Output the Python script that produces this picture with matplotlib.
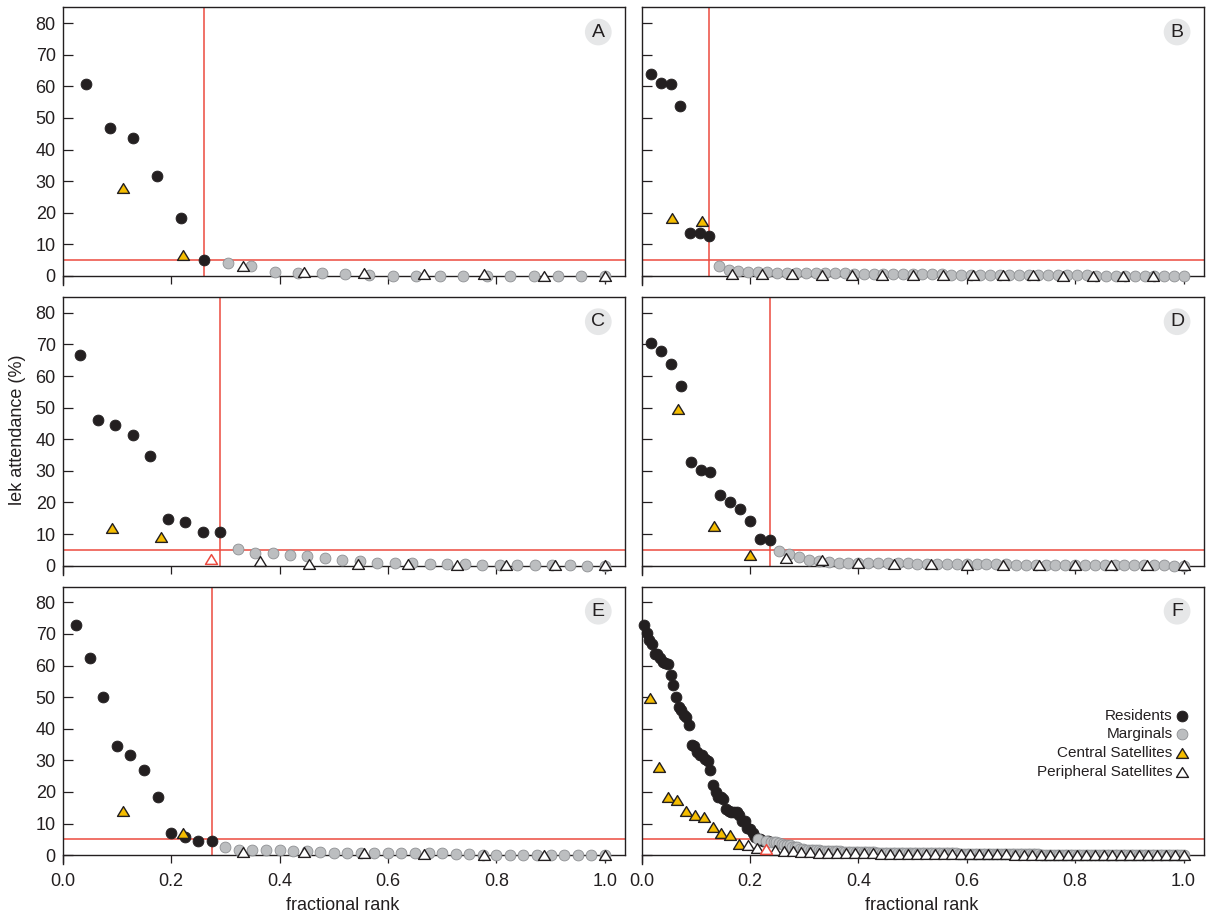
import matplotlib
matplotlib.use('Agg')
import matplotlib.pyplot as plt
from matplotlib.path import Path
import numpy as np

plt.rcParams['font.family'] = ['Liberation Sans', 'DejaVu Sans']

# ---------------- data (lek attendance, %) ----------------
panel_labels = ['A', 'B', 'C', 'D', 'E', 'F']

res_A = [60.6, 46.9, 43.6, 31.6, 18.4, 5.0]
mar_A = [4.2, 3.1, 1.3, 0.9, 0.8, 0.5, 0.3, 0.1, 0.1, 0.0, 0.0, 0.0, 0.0, 0.0, 0.0, 0.0, 0.0]
cen_A = [27.8, 6.5]
per_A = [3.1, 1.2, 0.8, 0.7, 0.5, 0.0, 0.0]
red_A = []

res_B = [63.8, 61.1, 60.7, 53.9, 13.6, 13.6, 12.8]
mar_B = [3.2, 2.0, 1.6, 1.4, 1.3, 1.2, 1.1, 1.0, 1.0, 0.9, 0.9, 0.8, 0.8, 0.8, 0.7,
         0.7, 0.7, 0.6, 0.6, 0.6, 0.5, 0.5, 0.5, 0.5, 0.4, 0.4, 0.4, 0.4, 0.3, 0.3,
         0.3, 0.3, 0.3, 0.2, 0.2, 0.2, 0.2, 0.2, 0.2, 0.1, 0.1, 0.1, 0.1, 0.1, 0.1,
         0.1, 0.0, 0.0, 0.0]
cen_B = [18.4, 17.4]
per_B = [0.6, 0.5, 0.5, 0.4, 0.4, 0.3, 0.3, 0.3, 0.2, 0.2, 0.2, 0.1, 0.1, 0.1, 0.1]
red_B = []

res_C = [66.7, 46.0, 44.5, 41.3, 34.8, 14.7, 13.8, 10.7, 10.7]
mar_C = [5.2, 4.1, 4.1, 3.4, 3.1, 2.5, 1.7, 1.4, 1.0, 0.7, 0.7, 0.6, 0.6, 0.6, 0.3,
         0.3, 0.2, 0.2, 0.2, 0.1, 0.0, 0.0]
cen_C = [12.0, 9.0]
per_C = [1.4, 0.4, 0.4, 0.4, 0.3, 0.2, 0.2, 0.2]
red_C = [2.1]

res_D = [70.4, 68.0, 63.8, 57.0, 32.8, 30.3, 29.7, 22.3, 20.0, 17.9, 14.1, 8.6, 8.2]
mar_D = [4.5, 3.7, 2.7, 1.9, 1.4, 1.1, 1.0, 1.0, 0.9, 0.9, 0.8, 0.8, 0.7, 0.7, 0.6,
         0.6, 0.6, 0.5, 0.5, 0.5, 0.4, 0.4, 0.4, 0.4, 0.3, 0.3, 0.3, 0.3, 0.3, 0.2,
         0.2, 0.2, 0.2, 0.2, 0.1, 0.1, 0.1, 0.1, 0.1, 0.1, 0.0, 0.0]
cen_D = [49.7, 12.7, 3.4]
per_D = [2.4, 1.7, 0.8, 0.6, 0.6, 0.3, 0.3, 0.2, 0.2, 0.2, 0.2, 0.2]
red_D = []

res_E = [72.9, 62.3, 50.0, 34.4, 31.6, 26.9, 18.3, 7.0, 5.6, 4.6, 4.4]
mar_E = [2.7, 1.7, 1.5, 1.5, 1.5, 1.3, 1.3, 0.9, 0.8, 0.8, 0.8, 0.8, 0.8, 0.8, 0.6,
         0.6, 0.6, 0.4, 0.4, 0.2, 0.0, 0.0, 0.0, 0.0, 0.0, 0.0, 0.0, 0.0, 0.0]
cen_E = [13.9, 7.1]
per_E = [1.0, 1.0, 0.8, 0.4, 0.2, 0.2, 0.2]
red_E = []

# group sizes used for the fractional rank (residents+marginals, satellites)
n_rm = [23, 56, 31, 55, 40]
n_sat = [9, 18, 11, 15, 9]

threshold = 5
legend_labels = ['Residents', 'Marginals', 'Central Satellites', 'Peripheral Satellites']

# ---------------- styles ----------------
BLACK = '#231F20'
GRAY = '#BCBEC0'
GRAY_EDGE = '#8E9093'
YELLOW = '#F5BD00'
RED = '#EC4A3F'
CIRC_MS = 7.8
TRI_MS = 8.6
TRI = Path([(0, 0.82), (-1, -0.82), (1, -0.82), (0, 0.82)],
           [Path.MOVETO, Path.LINETO, Path.LINETO, Path.CLOSEPOLY])


def frac_rank(groups, n):
    items = []
    for gi, vals in enumerate(groups):
        for k, v in enumerate(vals):
            items.append((v, gi, k))
    order = sorted(range(len(items)), key=lambda i: -items[i][0])
    if n is None:
        n = len(items)
    xs = [[None] * len(g) for g in groups]
    for r, i in enumerate(order):
        v, gi, k = items[i]
        xs[gi][k] = (r + 1) / n
    out = []
    for gi, g in enumerate(groups):
        pairs = sorted(zip(xs[gi], g))
        out.append(([p[0] for p in pairs], [p[1] for p in pairs]))
    return out


def draw_panel(ax, res, mar, cen, per, red, nrm, nsat, vline=True):
    (xr, yr), (xm, ym) = frac_rank([res, mar], nrm)
    (xc, yc), (xp, yp), (xx, yx) = frac_rank([cen, per, red], nsat)
    ax.axhline(threshold, color=RED, lw=1.1, zorder=1)
    if vline:
        ax.vlines(xr[-1], 0, 85, color=RED, lw=1.1, zorder=1)
    ax.plot(xr, yr, 'o', ls='none', ms=CIRC_MS, mfc=BLACK, mec=BLACK, mew=0.6,
            zorder=4, clip_on=False)
    ax.plot(xm, ym, 'o', ls='none', ms=CIRC_MS, mfc=GRAY, mec=GRAY_EDGE, mew=0.6,
            zorder=5, clip_on=False)
    ax.plot(xc, yc, marker=TRI, ls='none', ms=TRI_MS, mfc=YELLOW, mec=BLACK, mew=1.0,
            zorder=6, clip_on=False)
    ax.plot(xp, yp, marker=TRI, ls='none', ms=TRI_MS, mfc='white', mec=BLACK, mew=1.0,
            zorder=6, clip_on=False)
    if len(xx):
        ax.plot(xx, yx, marker=TRI, ls='none', ms=TRI_MS, mfc='white', mec=RED, mew=1.1,
                zorder=7, clip_on=False)


fig = plt.figure(figsize=(12.1, 9.18), dpi=100)
W, H = 1210.0, 918.0
col_left = [62.7, 641.5]
col_w = 562.6
row_top = [7.3, 297.0, 586.5]
row_h = 277.7

axes = []
for r in range(3):
    for c in range(2):
        ax = fig.add_axes([col_left[c] / W, 1 - (row_top[r] + row_h) / H, col_w / W, row_h / H])
        axes.append(ax)

data = [
    (res_A, mar_A, cen_A, per_A, red_A),
    (res_B, mar_B, cen_B, per_B, red_B),
    (res_C, mar_C, cen_C, per_C, red_C),
    (res_D, mar_D, cen_D, per_D, red_D),
    (res_E, mar_E, cen_E, per_E, red_E),
]

for i, (res, mar, cen, per, red) in enumerate(data):
    draw_panel(axes[i], res, mar, cen, per, red, n_rm[i], n_sat[i])

# pooled panel F
res_F = sum([d[0] for d in data], [])
mar_F = sum([d[1] for d in data], [])
cen_F = sum([d[2] for d in data], [])
per_F = sum([d[3] for d in data], [])
red_F = sum([d[4] for d in data], [])
draw_panel(axes[5], res_F, mar_F, cen_F, per_F, red_F, None, None, vline=False)

xt = [0.0, 0.2, 0.4, 0.6, 0.8, 1.0]
for i, ax in enumerate(axes):
    ax.set_xlim(0, 1.038)
    ax.set_ylim(-2.85, 85)
    for s in ax.spines.values():
        s.set_color(BLACK)
        s.set_linewidth(1.0)
    ax.spines['bottom'].set_position(('data', 0))
    ax.spines['right'].set_bounds(0, 85)
    ax.set_xticks(xt)
    ax.set_xticklabels(['%.1f' % v for v in xt])
    ax.set_yticks(range(0, 81, 10))
    ax.tick_params(axis='y', direction='in', length=7.2, width=0.9, pad=5,
                   labelsize=13, colors=BLACK)
    ax.tick_params(axis='x', direction='out', length=6.1, width=0.9, pad=6.5,
                   labelsize=13, colors=BLACK)
    if i % 2 == 1:
        ax.tick_params(axis='y', labelleft=False)
    if i < 4:
        ax.tick_params(axis='x', labelbottom=False)
    ax.text(0.952, 0.911, panel_labels[i], transform=ax.transAxes, ha='center',
            va='center', fontsize=14, color=BLACK, zorder=10,
            bbox=dict(boxstyle='circle,pad=0.25', fc='#E6E7E8', ec='none'))

# legend in panel F
axF = axes[5]
leg_y = [0.5337, 0.4689, 0.4005, 0.3321]
leg_style = [
    dict(marker='o', ms=CIRC_MS, mfc=BLACK, mec=BLACK, mew=0.6),
    dict(marker='o', ms=CIRC_MS, mfc=GRAY, mec=GRAY_EDGE, mew=0.6),
    dict(marker=TRI, ms=TRI_MS, mfc=YELLOW, mec=BLACK, mew=1.0),
    dict(marker=TRI, ms=TRI_MS, mfc='white', mec=BLACK, mew=1.0),
]
for lab, y, st in zip(legend_labels, leg_y, leg_style):
    axF.text(0.944, y, lab, transform=axF.transAxes, ha='right', va='center',
             fontsize=11, color=BLACK)
    axF.plot([0.9607], [y], ls='none', transform=axF.transAxes, clip_on=False,
             zorder=10, **st)

fig.text(18 / W, 1 - 430 / H, 'lek attendance (%)', rotation=90, ha='center',
         va='center', fontsize=13, color=BLACK)
fig.text(343 / W, 1 - 905 / H, 'fractional rank', ha='center', va='center',
         fontsize=13, color=BLACK)
fig.text(922 / W, 1 - 905 / H, 'fractional rank', ha='center', va='center',
         fontsize=13, color=BLACK)

fig.savefig('out.png', dpi=100)
